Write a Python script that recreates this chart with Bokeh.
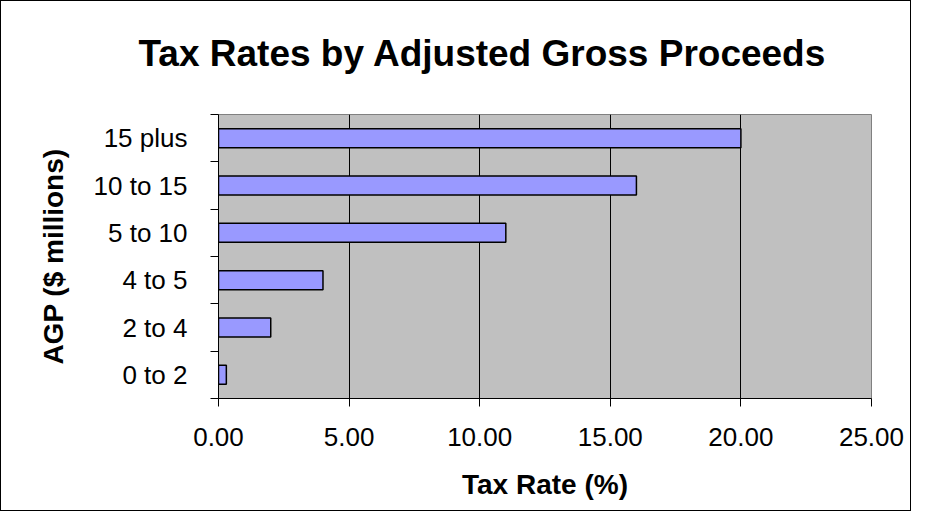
from bokeh.plotting import figure
from bokeh.models import Range1d, FixedTicker, PrintfTickFormatter, Title
from bokeh.embed import file_html
from bokeh.resources import INLINE

# Data
categories = ["0 to 2", "2 to 4", "4 to 5", "5 to 10", "10 to 15", "15 plus"]
tax_rates = [0.3, 2.0, 4.0, 11.0, 16.0, 20.0]
x_ticks = [0, 5, 10, 15, 20, 25]
title_text = "Tax Rates by Adjusted Gross Proceeds"
x_label = "Tax Rate (%)"
y_label = "AGP ($ millions)"

FONT = "Liberation Sans"

ypos = [i + 0.5 for i in range(len(categories))]

p = figure(width=911, height=511, output_backend="svg", toolbar_location=None, title=None,
           x_range=Range1d(0, 25), y_range=Range1d(0, len(categories)),
           min_border_left=217, min_border_right=41, min_border_top=113, min_border_bottom=114)
p.styles = {"border": "1px solid black"}

p.background_fill_color = "#C0C0C0"
p.border_fill_color = "white"
p.outline_line_color = "#808080"
p.outline_line_width = 1

p.hbar(y=ypos, right=tax_rates, left=0, height=0.4,
       fill_color="#9999FF", line_color="black", line_width=1.5)

# Spacer between plot area and title (closest to the frame)
spacer = Title(text=" ", text_font=FONT, text_font_size="20px", standoff=15)
p.add_layout(spacer, "above")
# Chart title
main_title = Title(text=title_text, text_font=FONT, text_font_size="37px",
                   text_font_style="bold", text_color="black", align="left",
                   offset=-80, vertical_align="top", standoff=0)
p.add_layout(main_title, "above")

# X axis
xa = p.xaxis[0]
xa.ticker = FixedTicker(ticks=x_ticks)
xa.formatter = PrintfTickFormatter(format="%.2f")
xa.major_tick_in = 0
xa.major_tick_out = 8
xa.minor_tick_line_color = None
xa.axis_line_color = "black"
xa.major_tick_line_color = "black"
xa.major_label_text_font = FONT
xa.major_label_text_font_size = "26px"
xa.major_label_text_color = "black"
xa.major_label_standoff = 21
xa.axis_label = x_label
xa.axis_label_text_font = FONT
xa.axis_label_text_font_size = "28px"
xa.axis_label_text_font_style = "bold"
xa.axis_label_text_color = "black"
xa.axis_label_standoff = 20

# Y axis: labels at category centers, tick marks at boundaries
ya = p.yaxis[0]
ya.ticker = FixedTicker(ticks=ypos, minor_ticks=list(range(len(categories) + 1)))
ya.major_label_overrides = {y: c for y, c in zip(ypos, categories)}
ya.major_tick_in = 0
ya.major_tick_out = 8
ya.major_tick_line_color = None
ya.minor_tick_in = 0
ya.minor_tick_out = 8
ya.minor_tick_line_color = "black"
ya.axis_line_color = "black"
ya.major_label_text_font = FONT
ya.major_label_text_font_size = "26px"
ya.major_label_text_color = "black"
ya.major_label_standoff = 23
ya.axis_label = y_label
ya.axis_label_text_font = FONT
ya.axis_label_text_font_size = "28px"
ya.axis_label_text_font_style = "bold"
ya.axis_label_text_color = "black"
ya.axis_label_standoff = 22

# Grid
p.xgrid.ticker = FixedTicker(ticks=x_ticks[1:-1])
p.xgrid.grid_line_color = "black"
p.xgrid.grid_line_width = 1
p.ygrid.grid_line_color = None

open("out.html", "w").write(file_html(p, INLINE))
